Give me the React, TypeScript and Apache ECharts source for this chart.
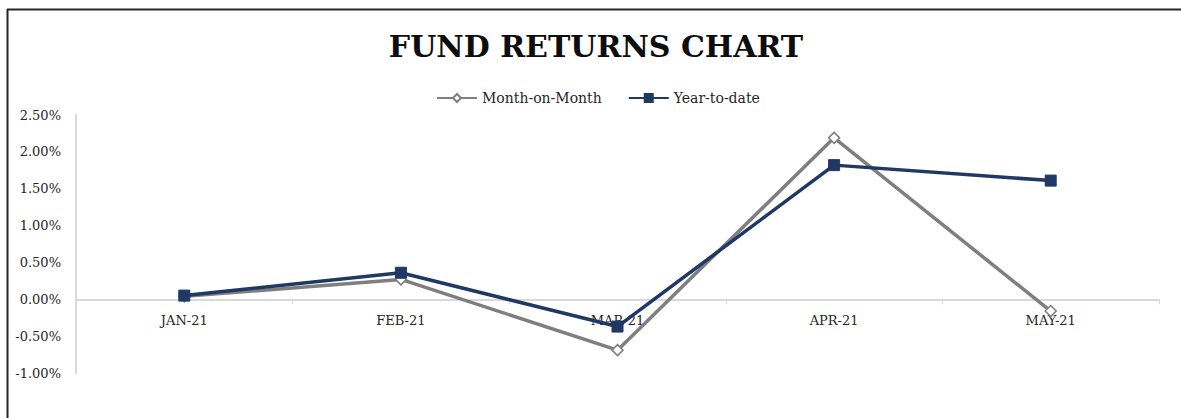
import React, { useEffect, useRef } from "react";
import * as echarts from "echarts";

const TITLE = "FUND RETURNS CHART";
const MONTHS = ["JAN-21", "FEB-21", "MAR-21", "APR-21", "MAY-21"];
const MOM_NAME = "Month-on-Month";
const YTD_NAME = "Year-to-date";
const MOM_VALUES = [0.04, 0.27, -0.69, 2.19, -0.16];
const YTD_VALUES = [0.05, 0.36, -0.37, 1.82, 1.61];
const Y_MIN = -1;
const Y_MAX = 2.5;
const Y_STEP = 0.5;

const FONT = "'DejaVu Serif', 'Liberation Serif', serif";
const GRAY = "#7f7f7f";
const NAVY = "#1f3864";
const AXIS = "#d9d9d9";

const GRID_TOP = 115;
const GRID_BOTTOM = 45;
const HEIGHT = 418;

export default function App() {
  const ref = useRef<HTMLDivElement>(null);

  useEffect(() => {
    if (!ref.current) return;
    const chart = echarts.init(ref.current, null, { renderer: "svg" });
    const gridH = HEIGHT - GRID_TOP - GRID_BOTTOM;
    const zeroOffset = -((0 - Y_MIN) / (Y_MAX - Y_MIN)) * gridH;
    chart.setOption({
      animation: false,
      backgroundColor: "#ffffff",
      title: {
        text: TITLE,
        left: 591,
        textAlign: "center",
        top: 26,
        textStyle: {
          fontFamily: FONT,
          fontWeight: "bold",
          fontSize: 30,
          color: "#0d0d0d",
        },
      },
      legend: {
        top: 86,
        left: 431,
        itemWidth: 40,
        itemHeight: 10,
        itemGap: 26,
        textStyle: { fontFamily: FONT, fontSize: 14, color: "#262626" },
        data: [MOM_NAME, YTD_NAME],
      },
      grid: { left: 76, right: 22, top: GRID_TOP, bottom: GRID_BOTTOM, containLabel: false },
      xAxis: {
        type: "category",
        data: MONTHS,
        boundaryGap: true,
        offset: zeroOffset,
        axisLine: { onZero: false, lineStyle: { color: AXIS, width: 2 } },
        axisTick: { show: true, alignWithLabel: false, length: 5, lineStyle: { color: AXIS } },
        axisLabel: { margin: 15, fontFamily: FONT, fontSize: 13, color: "#262626" },
        splitLine: { show: false },
      },
      yAxis: {
        type: "value",
        min: Y_MIN,
        max: Y_MAX,
        interval: Y_STEP,
        axisLine: { show: true, lineStyle: { color: AXIS, width: 2 } },
        axisTick: { show: false },
        splitLine: { show: false },
        axisLabel: {
          margin: 15,
          fontFamily: FONT,
          fontSize: 13,
          color: "#262626",
          formatter: (v: number) => v.toFixed(2) + "%",
        },
      },
      series: [
        {
          name: MOM_NAME,
          type: "line",
          data: MOM_VALUES,
          symbol: "diamond",
          symbolSize: 11,
          lineStyle: { color: GRAY, width: 3.5 },
          itemStyle: { color: "#ffffff", borderColor: GRAY, borderWidth: 1.5 },
          z: 2,
        },
        {
          name: YTD_NAME,
          type: "line",
          data: YTD_VALUES,
          symbol: "rect",
          symbolSize: 11,
          lineStyle: { color: NAVY, width: 3.5 },
          itemStyle: { color: NAVY, borderColor: NAVY, borderWidth: 1 },
          z: 3,
        },
      ],
      graphic: [
        {
          type: "line",
          shape: { x1: 7, y1: 9.5, x2: 1181, y2: 9.5 },
          style: { stroke: "#262626", lineWidth: 2 },
        },
        {
          type: "line",
          shape: { x1: 7.5, y1: 9, x2: 7.5, y2: 418 },
          style: { stroke: "#262626", lineWidth: 2 },
        },
      ],
    });
    return () => chart.dispose();
  }, []);

  return (
    <div
      ref={ref}
      style={{ position: "fixed", left: 0, top: 0, width: 1181, height: 418 }}
    />
  );
}
